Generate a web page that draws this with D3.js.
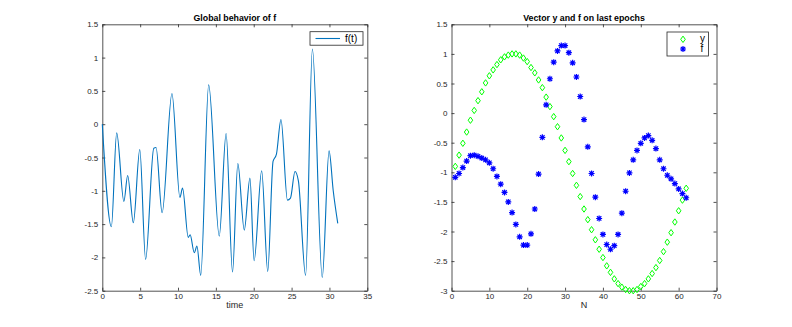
<!DOCTYPE html>
<html>
<head>
<meta charset="utf-8">
<script src="https://cdn.jsdelivr.net/npm/d3@7"></script>
<style>
  body { margin: 0; background: #fff; }
  svg text { font-family: "Liberation Sans", Arial, sans-serif; }
  .tick text { fill: #262626; font-size: 8px; }
  .domain, .tick line { stroke: #262626; }
</style>
</head>
<body>
<div id="fig"></div>
<script>
// left plot: f(t) (t, f)
var timeVals = [0, 1.2, 1.9, 2.85, 3.35, 4.1, 4.95, 5.72, 6.8, 7.1, 7.9, 9.2, 10.25, 10.6,
  11.35, 11.6, 12.15, 12.5, 13.0, 14.05, 15.45, 16.35, 17.2, 17.9, 18.75, 19.5, 20.05,
  21.05, 21.85, 22.55, 23.0, 23.6, 24.45, 24.85, 25.45, 25.9, 26.85, 27.75, 29.05, 29.95,
  30.5, 31.1];
var fVals = [0.0, -1.54, -0.13, -1.16, -0.77, -1.48, -0.38, -2.03, -0.36, -0.35, -1.33, 0.46,
  -1.10, -0.96, -1.70, -1.66, -1.93, -1.83, -2.27, 0.59, -1.68, -0.14, -2.22, -0.59, -1.59,
  -0.81, -2.05, -0.70, -2.21, -0.56, -0.45, 0.07, -1.14, -1.11, -0.71, -0.85, -2.27, 1.13,
  -2.30, -0.40, -1.0, -1.49];

// right plot: vector y and f for N = 1..62
var yVec = [-0.90, -0.71, -0.51, -0.32, -0.12, 0.045, 0.21, 0.36, 0.51, 0.63, 0.73, 0.82,
  0.90, 0.95, 0.98, 1.0, 1.0, 0.98, 0.93, 0.87, 0.77, 0.68, 0.56, 0.43, 0.27, 0.11, -0.06,
  -0.23, -0.42, -0.63, -0.82, -1.02, -1.22, -1.41, -1.62, -1.80, -1.97, -2.14, -2.30, -2.44,
  -2.58, -2.69, -2.80, -2.88, -2.94, -2.98, -3.0, -3.0, -2.98, -2.93, -2.88, -2.80, -2.71,
  -2.61, -2.49, -2.34, -2.18, -2.02, -1.84, -1.65, -1.47, -1.27];
var fVec = [-1.085, -1.02, -0.92, -0.81, -0.72, -0.71, -0.73, -0.76, -0.79, -0.84, -0.94,
  -1.07, -1.20, -1.34, -1.50, -1.68, -1.88, -2.09, -2.23, -2.23, -2.04, -1.62, -1.03, -0.41,
  0.14, 0.58, 0.86, 1.05, 1.14, 1.14, 1.02, 0.85, 0.61, 0.28, -0.11, -0.57, -1.02, -1.42,
  -1.78, -2.05, -2.22, -2.30, -2.24, -2.05, -1.69, -1.32, -1.01, -0.79, -0.63, -0.51, -0.42,
  -0.38, -0.46, -0.60, -0.79, -0.94, -1.05, -1.11, -1.19, -1.28, -1.36, -1.43];

var leftXTicks = [0, 5, 10, 15, 20, 25, 30, 35];
var leftYTicks = [1.5, 1, 0.5, 0, -0.5, -1, -1.5, -2, -2.5];
var rightXTicks = [0, 10, 20, 30, 40, 50, 60, 70];
var rightYTicks = [1.5, 1, 0.5, 0, -0.5, -1, -1.5, -2, -2.5, -3];

var svg = d3.select('#fig').append('svg')
  .attr('width', 792).attr('height', 327);

var axTop = 24.3, h = 266.4, w = 265;

// draws the boxed axes in matlab style (inward ticks on all four sides)
function makeAxes(left, xDom, yDom, xTicks, yTicks, title, xlabel) {
  var g = svg.append('g').attr('transform', `translate(${left}, ${axTop})`);
  var x = d3.scaleLinear().domain(xDom).range([0, w]);
  var y = d3.scaleLinear().domain(yDom).range([h, 0]);
  var fmt = d => String(d);

  g.append('g').attr('transform', `translate(0, ${h})`)
    .call(d3.axisBottom(x).tickValues(xTicks).tickFormat(fmt).tickSize(-3).tickSizeOuter(0).tickPadding(3));
  g.append('g')
    .call(d3.axisTop(x).tickValues(xTicks).tickFormat('').tickSize(-3).tickSizeOuter(0));
  g.append('g')
    .call(d3.axisLeft(y).tickValues(yTicks).tickFormat(fmt).tickSize(-3).tickSizeOuter(0).tickPadding(4));
  g.append('g').attr('transform', `translate(${w}, 0)`)
    .call(d3.axisRight(y).tickValues(yTicks).tickFormat('').tickSize(-3).tickSizeOuter(0));
  g.selectAll('.domain').attr('stroke-width', 0.8);
  g.selectAll('.tick line').attr('stroke-width', 0.8);
  g.selectAll('g[font-family]').attr('font-family', null).attr('font-size', null);

  g.append('text')
    .attr('x', w / 2).attr('y', -3)
    .attr('text-anchor', 'middle')
    .style('font-size', '8.8px').style('font-weight', 'bold')
    .attr('fill', '#000')
    .text(title);
  g.append('text')
    .attr('x', w / 2).attr('y', h + 17)
    .attr('text-anchor', 'middle')
    .style('font-size', '9px')
    .attr('fill', '#262626')
    .text(xlabel);
  return {g: g, x: x, y: y};
}

// left: global behavior
var L = makeAxes(102.3, [0, 35], [-2.5, 1.5], leftXTicks, leftYTicks, 'Global behavior of f', 'time');
var lineData = timeVals.map((t, i) => [t, fVals[i]]);
L.g.append('path')
  .datum(lineData)
  .attr('fill', 'none')
  .attr('stroke', '#0072BD')
  .attr('stroke-width', 1.1)
  .attr('d', d3.line().x(d => L.x(d[0])).y(d => L.y(d[1])).curve(d3.curveMonotoneX));

// left legend
var lg = L.g.append('g').attr('transform', `translate(${310 - 102.3}, ${31.7 - axTop})`);
lg.append('rect').attr('width', 53).attr('height', 13.5)
  .attr('fill', '#fff').attr('stroke', '#262626').attr('stroke-width', 0.8);
lg.append('line').attr('x1', 5.5).attr('x2', 30).attr('y1', 6.8).attr('y2', 6.8)
  .attr('stroke', '#0072BD').attr('stroke-width', 1.1);
lg.append('text').attr('x', 35).attr('y', 10.3)
  .style('font-size', '10px').attr('fill', '#000').text('f(t)');

// right: vector y and f
var R = makeAxes(451.5, [0, 70], [-3, 1.5], rightXTicks, rightYTicks, 'Vector y and f on last epochs', 'N');

var diamond = 'M0,-3.2L2.3,0L0,3.2L-2.3,0Z';
var star = 'M-3,0H3M0,-3V3M-2.2,-2.2L2.2,2.2M-2.2,2.2L2.2,-2.2';

R.g.selectAll('.ydot')
  .data(yVec)
  .enter()
  .append('path')
  .attr('class', 'ydot')
  .attr('transform', (d, i) => `translate(${R.x(i + 1)}, ${R.y(d)})`)
  .attr('d', diamond)
  .attr('fill', 'none')
  .attr('stroke', '#00FF00')
  .attr('stroke-width', 1);

R.g.selectAll('.fdot')
  .data(fVec)
  .enter()
  .append('path')
  .attr('class', 'fdot')
  .attr('transform', (d, i) => `translate(${R.x(i + 1)}, ${R.y(d)})`)
  .attr('d', star)
  .attr('fill', 'none')
  .attr('stroke', '#0000FF')
  .attr('stroke-width', 1.2);

// right legend
var rg = R.g.append('g').attr('transform', `translate(${667 - 451.5}, ${32 - axTop})`);
rg.append('rect').attr('width', 41.5).attr('height', 24)
  .attr('fill', '#fff').attr('stroke', '#262626').attr('stroke-width', 0.8);
rg.append('path').attr('transform', 'translate(16, 7.3)').attr('d', diamond)
  .attr('fill', 'none').attr('stroke', '#00FF00').attr('stroke-width', 1);
rg.append('path').attr('transform', 'translate(16, 17)').attr('d', star)
  .attr('fill', 'none').attr('stroke', '#0000FF').attr('stroke-width', 1.2);
rg.append('text').attr('x', 33).attr('y', 9.5)
  .style('font-size', '10px').attr('fill', '#000').text('y');
rg.append('text').attr('x', 33.5).attr('y', 19.5)
  .style('font-size', '10px').attr('fill', '#000').text('f');
</script>
</body>
</html>
